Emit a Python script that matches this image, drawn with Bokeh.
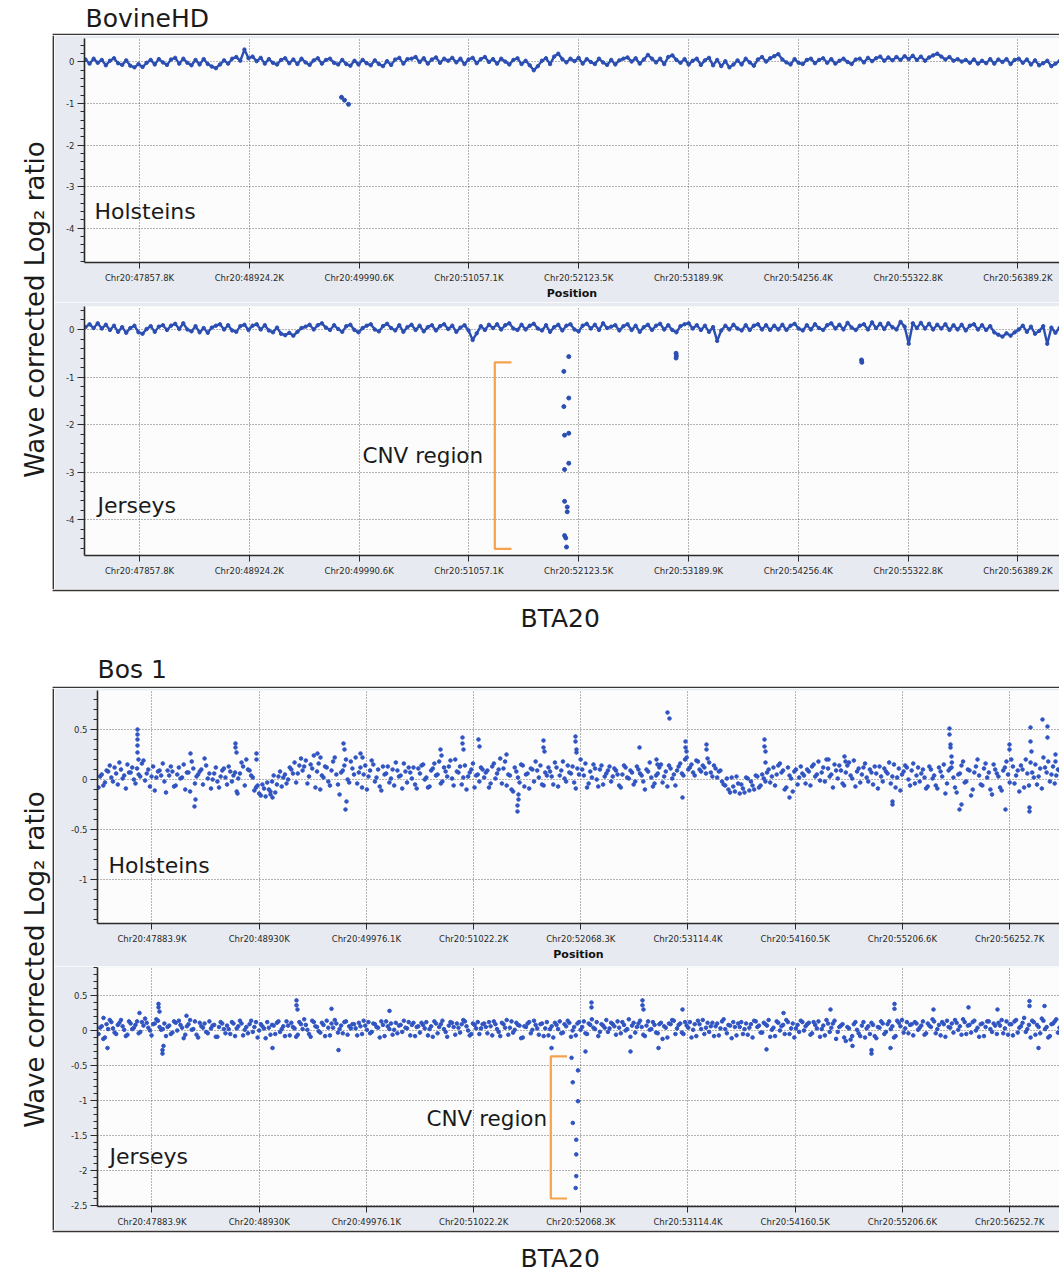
import numpy as np
from bokeh.plotting import figure
from bokeh.layouts import column, row
from bokeh.models import Range1d, FixedTicker, SingleIntervalTicker, PrintfTickFormatter, Label
from bokeh.embed import file_html
from bokeh.resources import INLINE

# ======================= DATA =======================
# x positions are genome positions on BTA20 in kb
bhd_ticks = [47857.8, 48924.2, 49990.6, 51057.1, 52123.5, 53189.9, 54256.4, 55322.8, 56389.2]
bhd_tick_labels = ["Chr20:47857.8K", "Chr20:48924.2K", "Chr20:49990.6K", "Chr20:51057.1K",
                   "Chr20:52123.5K", "Chr20:53189.9K", "Chr20:54256.4K", "Chr20:55322.8K",
                   "Chr20:56389.2K"]
bos_ticks = [47883.9, 48930.0, 49976.1, 51022.2, 52068.3, 53114.4, 54160.5, 55206.6, 56252.7]
bos_tick_labels = ["Chr20:47883.9K", "Chr20:48930K", "Chr20:49976.1K", "Chr20:51022.2K",
                   "Chr20:52068.3K", "Chr20:53114.4K", "Chr20:54160.5K", "Chr20:55206.6K",
                   "Chr20:56252.7K"]

# probe spans (kb) of the dense tracks; values read at even steps along them
bhd_span = (47333.3, 56793.0)
bos_span_a = (47361.9, 56739.7)
bos_span_b = (47377.6, 56755.4)

# BovineHD, Holsteins: wave corrected log2 ratio along the track
bhd_holstein = [
    0.06, -0.04, 0.08, -0.02, 0.05, -0.08, 0.03, 0.09, -0.03, -0.07,
    0.04, -0.09, -0.13, -0.05, -0.12, -0.02, 0.05, -0.06, 0.07, -0.01,
    -0.07, 0.06, 0.10, -0.04, 0.08, -0.02, -0.08, 0.05, -0.06, 0.07,
    -0.05, -0.11, -0.15, -0.06, 0.04, -0.04, 0.08, 0.12, 0.03, 0.30,
    0.09, 0.13, 0.02, 0.10, -0.04, 0.07, -0.02, -0.06, 0.05, 0.09,
    -0.03, 0.06, -0.05, 0.08, -0.01, -0.07, 0.04, 0.09, -0.04, 0.05,
    0.08, -0.02, -0.06, 0.05, -0.05, -0.09, 0.03, -0.06, 0.05, -0.03,
    -0.08, 0.04, -0.05, -0.10, 0.02, -0.07, 0.06, 0.10, -0.04, 0.07,
    0.08, 0.12, 0.00, 0.09, -0.04, 0.06, 0.11, -0.02, 0.08, 0.03,
    0.10, -0.01, 0.08, -0.05, 0.06, 0.10, -0.03, 0.07, 0.12, 0.00,
    0.07, -0.04, 0.08, 0.01, -0.06, 0.05, 0.09, -0.05, 0.03, -0.08,
    -0.20, -0.10, 0.03, 0.09, -0.05, 0.13, 0.20, 0.07, -0.01, 0.08,
    0.02, 0.10, -0.04, 0.07, 0.00, -0.05, 0.08, -0.01, -0.07, 0.05,
    -0.06, 0.04, 0.08, 0.11, 0.01, 0.09, -0.04, 0.06, 0.17, 0.08,
    -0.01, 0.08, -0.05, 0.12, 0.16, 0.05, -0.02, 0.07, -0.06, 0.03,
    0.08, -0.07, 0.04, 0.10, -0.08, 0.05, -0.10, 0.02, -0.13, -0.06,
    0.04, -0.06, 0.08, -0.01, -0.09, 0.06, 0.12, 0.01, 0.09, 0.14,
    0.19, 0.06, -0.01, -0.06, 0.07, -0.02, -0.05, 0.05, 0.08, -0.03,
    0.05, 0.09, -0.02, 0.07, -0.04, 0.03, 0.08, 0.00, -0.05, 0.06,
    0.08, -0.01, 0.10, 0.02, 0.09, 0.13, 0.03, 0.11, 0.04, 0.12,
    0.05, 0.14, 0.07, 0.15, 0.05, 0.13, 0.03, 0.11, 0.16, 0.20,
    0.13, 0.06, 0.12, 0.03, 0.07, 0.01, 0.05, -0.02, 0.06, -0.04,
    0.03, -0.03, 0.07, -0.04, 0.06, 0.00, 0.07, -0.05, 0.05, 0.08,
    -0.02, 0.06, -0.06, 0.04, -0.08, -0.03, 0.03, -0.10, -0.04, 0.02,
]
bhd_holstein_out = [(49819.6, -0.85), (49848.8, -0.92), (49887.6, -1.02)]

# BovineHD, Jerseys
bhd_jersey = [
    0.05, 0.11, 0.03, 0.13, 0.02, 0.10, -0.01, 0.08, -0.05, 0.05,
    -0.07, 0.03, 0.08, -0.06, -0.09, 0.01, 0.07, -0.05, 0.06, 0.09,
    -0.01, 0.08, 0.12, 0.01, 0.13, 0.00, -0.04, 0.07, -0.06, 0.03,
    -0.07, 0.04, 0.08, 0.11, 0.00, 0.09, -0.02, -0.05, 0.07, 0.10,
    -0.01, 0.08, 0.11, 0.00, 0.09, -0.02, -0.06, 0.04, -0.09, -0.12,
    -0.07, -0.13, -0.05, 0.03, 0.06, 0.10, 0.00, 0.09, 0.13, 0.04,
    -0.01, 0.09, 0.01, -0.05, 0.07, 0.10, -0.01, -0.06, 0.03, 0.08,
    0.11, 0.00, -0.04, 0.07, 0.12, 0.03, -0.02, 0.09, -0.05, 0.05,
    0.10, -0.01, 0.08, -0.04, 0.05, 0.09, -0.02, 0.07, 0.11, 0.01,
    0.08, -0.05, 0.04, 0.09, -0.02, -0.22, -0.08, 0.07, -0.01, 0.10,
    0.03, 0.11, 0.00, 0.09, 0.13, 0.02, -0.01, 0.10, 0.00, 0.08,
    0.12, 0.02, -0.02, 0.09, -0.05, 0.05, 0.10, -0.02, 0.08, 0.11,
    0.00, -0.04, 0.08, 0.12, 0.02, 0.10, -0.01, 0.13, 0.03, 0.06,
    0.09, -0.02, 0.07, 0.11, -0.01, 0.08, -0.05, 0.05, 0.10, -0.01,
    0.08, 0.12, 0.00, 0.09, -0.01, -0.06, 0.07, 0.11, 0.13, 0.02,
    0.09, -0.01, 0.08, -0.05, 0.05, -0.24, -0.02, 0.08, 0.00, 0.10,
    0.02, -0.02, 0.09, -0.01, 0.08, 0.11, 0.00, 0.09, -0.01, 0.08,
    0.00, 0.10, -0.01, 0.08, 0.12, 0.02, -0.02, 0.09, 0.00, 0.11,
    0.03, -0.01, 0.09, 0.13, 0.02, 0.10, 0.00, 0.14, 0.04, -0.01,
    0.08, 0.11, 0.00, 0.15, 0.03, 0.12, 0.01, 0.13, 0.05, 0.00,
    0.16, 0.06, -0.30, 0.13, 0.03, 0.14, 0.02, 0.12, 0.00, 0.10,
    0.02, 0.11, -0.01, 0.09, 0.00, 0.10, -0.02, 0.08, 0.11, 0.00,
    0.09, -0.01, 0.07, -0.06, -0.11, -0.15, -0.08, -0.13, -0.06, 0.00,
    0.08, -0.05, 0.06, -0.09, -0.03, 0.07, -0.30, 0.04, -0.07, 0.03,
]
bhd_jersey_out = [(53069.0, -0.50), (53072.0, -0.55), (53069.0, -0.60),
                  (54870.0, -0.64), (54873.0, -0.69)]
bhd_jersey_cnv = [(52027, -0.57), (51979, -0.88), (52027, -1.44), (51979, -1.62),
                  (52027, -2.18), (51986, -2.22), (52027, -2.81), (51986, -2.94),
                  (51986, -3.61), (52012, -3.73), (52012, -3.83), (51986, -4.33),
                  (51998, -4.38), (52005, -4.57)]
bhd_cnv_extent = (-0.69, -4.61)

# Bos 1, Holsteins (two interleaved probe sets)
bos_holstein_a = [
    -0.08, 0.05, -0.03, 0.08, 0.02, 0.12, -0.05, 0.10, 0.04, 0.15, 0.07, 0.00, 0.11, 0.03, 0.19, 0.06, -0.07, 0.13, 0.02, 0.09,
    0.16, -0.13, 0.04, 0.08, -0.06, 0.12, 0.02, -0.10, 0.07, 0.18, -0.04, 0.05, 0.10, 0.21, 0.01, -0.09, 0.06, -0.02, 0.03, 0.11,
    -0.05, 0.08, 0.04, -0.12, 0.06, 0.13, 0.20, 0.09, 0.02, -0.08, -0.14, -0.05, -0.17, -0.10, -0.02, -0.13, 0.03, -0.07, 0.05, 0.00,
    0.10, 0.17, 0.06, 0.21, 0.13, -0.04, 0.15, 0.24, 0.08, -0.10, 0.02, 0.12, -0.06, 0.18, 0.05, -0.15, 0.09, 0.20, -0.03, 0.11,
    0.22, 0.07, -0.08, 0.14, 0.03, 0.19, -0.02, 0.10, -0.11, 0.05, 0.13, 0.01, -0.06, 0.09, 0.04, 0.16, -0.03, 0.07, 0.12, -0.09,
    0.06, 0.15, 0.02, -0.07, 0.11, 0.04, 0.18, -0.02, 0.08, 0.13, 0.01, 0.20, 0.07, -0.05, 0.14, 0.03, 0.10, -0.08, 0.05, 0.12,
    0.02, 0.09, -0.04, 0.16, 0.06, 0.21, 0.11, -0.06, 0.04, -0.12, 0.08, -0.03, 0.14, 0.05, -0.09, 0.10, 0.18, 0.02, -0.05, 0.07,
    0.12, 0.03, 0.17, -0.07, 0.09, 0.01, 0.14, 0.06, -0.03, 0.11, 0.20, 0.04, -0.08, 0.08, 0.15, 0.00, 0.10, -0.05, 0.06, 0.13,
    0.03, 0.09, -0.06, 0.05, 0.12, 0.01, 0.07, -0.02, 0.10, 0.04, -0.10, 0.08, 0.02, -0.04, 0.06, 0.15, 0.03, -0.07, 0.11, 0.05,
    0.09, 0.16, 0.04, 0.22, 0.12, 0.07, 0.19, 0.10, 0.14, 0.06, 0.17, 0.03, 0.11, 0.08, -0.02, -0.06, -0.10, 0.02, -0.12, -0.04,
    -0.05, -0.13, 0.01, -0.02, -0.10, 0.03, -0.06, 0.01, 0.07, -0.03, 0.12, 0.05, 0.16, 0.09, -0.08, 0.04, -0.12, 0.10, 0.02, 0.06,
    -0.04, 0.08, 0.13, 0.03, 0.18, 0.07, -0.02, 0.11, 0.05, 0.15, 0.01, 0.09, -0.06, 0.14, 0.04, 0.19, 0.08, -0.03, 0.12, 0.02,
    0.10, -0.05, 0.06, 0.13, -0.02, 0.08, 0.17, 0.03, -0.08, 0.11, 0.05, 0.14, 0.00, 0.09, -0.04, 0.12, 0.06, 0.02, -0.07, 0.10,
    0.04, -0.09, 0.08, 0.15, -0.04, 0.11, 0.02, -0.13, 0.06, 0.18, -0.02, 0.09, -0.10, 0.13, 0.04, -0.06, 0.16, 0.07, -0.15, 0.10,
    0.03, -0.11, 0.12, 0.05, 0.20, -0.04, 0.09, 0.14, -0.08, 0.06, 0.17, 0.02, -0.05, 0.11, 0.22, 0.07, -0.02, 0.13, 0.04, 0.09,
]
bos_holstein_b = [
    0.03, -0.06, 0.09, 0.14, -0.02, 0.06, 0.17, 0.01, -0.09, 0.07, 0.12, -0.04, 0.05, 0.16, -0.01, 0.10, 0.03, -0.11, 0.08, 0.04,
    -0.02, 0.09, 0.13, -0.07, 0.05, 0.01, 0.15, 0.07, -0.12, 0.11, 0.03, 0.08, -0.05, 0.14, 0.06, 0.00, 0.12, -0.08, 0.09, 0.02,
    0.13, -0.02, 0.07, 0.01, 0.17, -0.06, 0.10, 0.04, -0.11, -0.06, -0.16, -0.09, -0.03, -0.12, 0.04, -0.05, 0.08, 0.02, -0.04, 0.12,
    0.06, -0.03, 0.14, 0.09, 0.19, 0.03, 0.11, -0.08, 0.16, 0.04, 0.13, -0.02, 0.09, 0.22, -0.05, 0.07, 0.14, 0.00, 0.18, 0.05,
    -0.04, 0.12, 0.05, -0.10, 0.09, 0.15, 0.02, -0.07, 0.13, 0.06, -0.03, 0.10, 0.17, 0.03, -0.09, 0.08, 0.12, 0.01, -0.05, 0.11,
    0.14, 0.00, -0.08, 0.09, 0.16, 0.05, -0.04, 0.12, 0.03, 0.19, -0.06, 0.08, 0.13, 0.02, -0.10, 0.07, 0.16, 0.04, -0.02, 0.10,
    0.07, -0.08, 0.13, 0.01, 0.10, -0.04, 0.18, 0.05, -0.10, 0.12, 0.02, 0.15, -0.07, 0.06, 0.11, -0.02, 0.09, 0.14, -0.06, 0.04,
    0.08, -0.05, 0.12, 0.04, 0.18, -0.02, 0.07, 0.13, -0.09, 0.05, 0.10, 0.16, -0.04, 0.02, 0.11, -0.07, 0.14, 0.03, 0.09, -0.02,
    0.11, 0.05, -0.08, 0.14, 0.02, 0.09, -0.05, 0.13, 0.06, -0.02, 0.10, 0.17, -0.07, 0.04, 0.12, -0.03, 0.08, 0.14, 0.01, -0.06,
    0.13, 0.06, 0.20, 0.10, 0.15, 0.04, 0.18, 0.08, 0.12, 0.21, 0.07, 0.14, 0.02, 0.09, -0.05, 0.01, -0.13, -0.07, 0.03, -0.14,
    -0.09, 0.02, -0.11, -0.06, 0.04, -0.08, 0.05, -0.02, 0.10, 0.03, -0.06, 0.14, 0.07, -0.10, 0.12, 0.01, 0.08, -0.05, 0.13, 0.04,
    0.10, -0.06, 0.15, 0.05, -0.01, 0.12, 0.20, 0.03, -0.08, 0.09, 0.14, -0.04, 0.07, 0.17, 0.01, -0.07, 0.11, 0.05, 0.16, -0.02,
    0.07, 0.13, -0.09, 0.03, 0.11, 0.06, -0.04, 0.15, 0.02, -0.11, 0.08, 0.12, -0.06, 0.16, 0.04, -0.02, 0.10, -0.09, 0.13, 0.01,
    -0.06, 0.12, 0.03, -0.14, 0.09, 0.17, -0.08, 0.05, 0.14, -0.03, 0.10, -0.16, 0.07, 0.20, -0.05, 0.11, 0.02, -0.10, 0.15, 0.06,
    -0.08, 0.09, 0.18, -0.03, 0.13, 0.04, -0.12, 0.10, 0.20, -0.06, 0.07, 0.15, 0.03, -0.09, 0.12, 0.18, 0.05, -0.04, 0.10, 0.14,
]
bos_holstein_spikes = [
    (47742.4, 0.50), (47742.4, 0.45), (47742.4, 0.40), (47742.4, 0.34), (47742.4, 0.27), (47752.2, 0.20),
    (48259.6, 0.26), (48298.7, -0.27), (48308.4, -0.20),
    (48698.8, 0.36), (48698.8, 0.32), (48708.5, 0.27), (48718.3, -0.14),
    (48903.7, 0.26), (48903.7, 0.20), (49059.8, -0.18), (49040.3, -0.15),
    (49498.9, 0.26), (49528.2, 0.22),
    (49752.7, 0.36), (49762.4, 0.30), (49772.2, -0.30), (49781.9, -0.22),
    (49918.6, 0.26), (49938.1, 0.22), (50699.2, 0.30), (50709.0, 0.24),
    (50913.9, 0.42), (50913.9, 0.36), (50923.7, 0.30), (51070.0, 0.40), (51079.8, 0.33),
    (51343.3, 0.25), (51450.6, -0.32), (51450.6, -0.26), (51460.4, -0.20), (51460.4, -0.15),
    (51704.3, 0.39), (51704.3, 0.32), (51714.1, 0.28),
    (52016.6, 0.43), (52016.6, 0.38), (52026.4, 0.30), (52026.4, 0.27),
    (52641.2, 0.32), (52807.0, 0.20), (52816.8, 0.15), (52914.4, 0.67), (52933.9, 0.61),
    (53090.0, 0.38), (53090.0, 0.32), (53099.8, 0.28), (53060.8, -0.18),
    (53295.0, 0.35), (53295.0, 0.30),
    (53861.0, 0.40), (53861.0, 0.33), (53870.7, 0.28), (53870.7, 0.17), (54104.9, -0.18),
    (54485.5, 0.20), (54641.6, 0.23), (54651.4, 0.18), (55110.0, -0.22), (55110.0, -0.25),
    (55666.3, 0.51), (55666.3, 0.45), (55676.1, 0.35), (55676.1, 0.32), (55685.8, 0.23), (55685.8, 0.12),
    (55763.8, -0.30), (55783.4, -0.25), (56212.7, -0.30), (56251.8, 0.35), (56251.8, 0.30),
    (56446.9, -0.28), (56446.9, -0.32), (56456.7, 0.52), (56456.7, 0.38), (56466.4, 0.28),
    (56573.8, 0.60), (56622.6, 0.53), (56622.6, 0.42), (56700.6, 0.25), (56700.6, 0.18),
]

# Bos 1, Jerseys (two interleaved probe sets)
bos_jersey_a = [
    -0.05, 0.06, -0.10, 0.02, 0.12, -0.03, 0.08, 0.15, 0.01, -0.06, 0.10, 0.04, 0.13, -0.02, 0.07, 0.11, 0.00, 0.09, 0.16, 0.05,
    0.02, -0.08, 0.07, -0.03, 0.11, 0.14, 0.04, -0.06, 0.09, 0.01, 0.13, -0.10, 0.06, 0.10, -0.04, 0.03, 0.08, -0.09, 0.12, 0.02,
    0.07, -0.05, 0.10, 0.03, 0.14, -0.07, 0.05, 0.09, -0.02, 0.12, 0.00, 0.06, -0.11, 0.04, 0.08, -0.05, 0.13, 0.02, -0.08, 0.07,
    0.11, 0.03, -0.06, 0.09, 0.16, 0.01, -0.09, 0.12, 0.05, -0.03, 0.08, 0.14, -0.07, 0.04, 0.10, 0.02, -0.04, 0.13, 0.06, 0.09,
    0.03, 0.11, -0.05, 0.07, 0.12, -0.02, 0.09, 0.04, 0.13, -0.08, 0.06, 0.10, 0.01, -0.04, 0.08, 0.14, 0.03, -0.07, 0.11, 0.05,
    -0.03, 0.08, 0.12, 0.02, -0.09, 0.10, 0.05, 0.14, -0.02, 0.07, 0.11, -0.06, 0.04, 0.09, 0.13, 0.00, -0.05, 0.08, 0.12, 0.03,
    0.10, -0.04, 0.06, 0.13, 0.02, -0.08, 0.09, 0.15, 0.04, -0.03, 0.11, 0.07, -0.10, 0.05, 0.12, 0.01, 0.08, -0.06, 0.10, 0.03,
    -0.07, 0.06, 0.11, 0.02, -0.04, 0.09, 0.14, -0.09, 0.05, 0.10, 0.01, 0.13, -0.05, 0.08, 0.04, 0.12, -0.02, 0.07, 0.15, 0.03,
    0.09, -0.06, 0.04, 0.12, 0.00, 0.16, 0.07, -0.03, 0.10, 0.05, -0.08, 0.13, 0.02, 0.08, -0.04, 0.11, 0.06, -0.10, 0.09, 0.14,
    0.03, 0.10, -0.05, 0.07, 0.12, 0.01, -0.08, 0.09, 0.15, 0.04, -0.02, 0.11, 0.06, -0.07, 0.13, 0.02, 0.08, -0.11, 0.05, 0.10,
    0.12, 0.02, -0.06, 0.09, 0.14, 0.05, -0.03, 0.11, 0.07, -0.09, 0.04, 0.13, 0.00, 0.08, 0.15, -0.05, 0.10, 0.03, -0.02, 0.12,
    0.06, 0.11, -0.04, 0.08, 0.13, 0.02, -0.07, 0.10, 0.04, 0.14, -0.02, 0.07, -0.10, 0.05, -0.13, 0.09, 0.01, -0.08, 0.12, 0.03,
    -0.05, 0.08, -0.11, 0.04, 0.10, -0.02, 0.13, 0.06, -0.08, 0.11, 0.15, 0.03, -0.04, 0.09, 0.12, 0.01, 0.07, -0.06, 0.10, 0.05,
    0.13, 0.02, -0.07, 0.09, 0.14, 0.04, -0.03, 0.11, 0.06, 0.16, -0.05, 0.08, 0.12, 0.00, -0.09, 0.10, 0.05, 0.13, -0.02, 0.07,
    0.11, 0.15, 0.03, -0.06, 0.09, 0.13, -0.03, 0.06, 0.18, 0.02, -0.10, 0.12, 0.08, -0.04, 0.14, 0.05, -0.08, 0.10, 0.16, 0.04,
]
bos_jersey_b = [
    0.04, -0.12, 0.09, 0.15, 0.03, -0.05, 0.11, 0.06, -0.08, 0.13, 0.02, 0.08, -0.04, 0.12, 0.17, 0.04, -0.07, 0.10, 0.14, 0.01,
    0.10, 0.05, -0.05, 0.13, 0.00, 0.08, -0.11, 0.06, 0.15, 0.02, -0.06, 0.11, 0.04, -0.02, 0.13, 0.07, -0.09, 0.05, 0.10, -0.04,
    0.02, 0.12, -0.08, 0.06, 0.10, 0.01, -0.04, 0.14, 0.05, -0.10, 0.09, 0.03, 0.12, -0.06, 0.07, 0.11, -0.02, 0.06, 0.13, -0.07,
    0.05, -0.09, 0.12, 0.02, 0.08, -0.05, 0.14, 0.06, -0.01, 0.11, -0.08, 0.04, 0.10, 0.15, -0.03, 0.07, 0.12, -0.06, 0.03, 0.09,
    -0.07, 0.06, 0.14, 0.01, -0.04, 0.10, 0.05, -0.10, 0.08, 0.13, 0.02, -0.06, 0.11, 0.07, -0.02, 0.04, 0.12, 0.08, -0.08, 0.06,
    0.11, 0.03, -0.07, 0.06, 0.13, -0.04, 0.09, 0.02, -0.09, 0.12, 0.05, 0.10, -0.03, 0.15, 0.06, -0.07, 0.10, 0.03, -0.05, 0.09,
    0.05, 0.12, -0.07, 0.09, -0.02, 0.11, 0.04, -0.06, 0.13, 0.01, 0.08, -0.11, 0.06, 0.10, -0.04, 0.14, 0.03, 0.09, -0.08, 0.12,
    0.02, -0.10, 0.08, 0.13, -0.03, 0.06, 0.11, 0.00, -0.07, 0.12, 0.05, -0.04, 0.10, 0.16, 0.02, -0.08, 0.09, 0.04, -0.02, 0.11,
    0.06, 0.13, -0.04, 0.08, 0.02, -0.09, 0.11, 0.05, 0.14, -0.06, 0.07, 0.01, 0.12, -0.03, 0.09, -0.12, 0.04, 0.10, 0.15, -0.05,
    0.08, -0.03, 0.12, 0.04, -0.10, 0.09, 0.14, 0.02, -0.05, 0.11, 0.06, -0.08, 0.10, 0.03, 0.16, -0.04, 0.07, 0.12, -0.07, 0.05,
    -0.05, 0.10, 0.04, -0.10, 0.13, 0.07, -0.03, 0.09, 0.15, 0.01, -0.08, 0.11, 0.06, -0.05, 0.12, 0.03, -0.10, 0.08, 0.14, 0.00,
    0.09, -0.06, 0.12, 0.03, -0.09, 0.07, 0.15, -0.02, 0.10, -0.12, 0.05, 0.09, -0.15, 0.03, -0.08, 0.12, -0.04, 0.07, -0.10, 0.06,
    0.11, -0.08, 0.05, 0.13, -0.05, 0.09, 0.02, -0.10, 0.14, 0.06, -0.03, 0.12, 0.08, -0.07, 0.10, 0.04, 0.13, -0.04, 0.07, 0.16,
    -0.04, 0.08, 0.12, -0.09, 0.05, 0.10, 0.15, 0.01, -0.06, 0.12, 0.07, -0.03, 0.14, 0.04, 0.09, -0.08, 0.13, 0.02, 0.10, -0.05,
    0.07, -0.04, 0.13, 0.09, -0.07, 0.15, 0.04, 0.11, -0.02, 0.08, 0.14, -0.06, 0.05, 0.17, 0.02, -0.10, 0.09, 0.13, -0.03, 0.07,
]
bos_jersey_spikes = [
    (47410.7, 0.18), (47449.7, -0.25), (47762.0, 0.25), (47947.4, 0.38), (47947.4, 0.33), (47957.1, 0.27),
    (47986.4, -0.33), (47986.4, -0.28), (47996.2, -0.22), (48220.6, 0.21), (49059.8, -0.25),
    (49294.0, 0.43), (49294.0, 0.36), (49303.8, 0.30), (49635.6, 0.31), (49703.9, -0.28), (50201.6, 0.28),
    (51782.4, -0.25), (52114.2, -0.30), (52172.7, 0.40), (52172.7, 0.33), (52553.3, -0.30),
    (52670.4, 0.43), (52670.4, 0.36), (52680.2, 0.30), (52826.6, -0.25), (53060.8, 0.30),
    (53880.5, -0.27), (54046.4, 0.25), (54505.0, 0.30), (54719.7, -0.22), (54905.1, -0.33), (54905.1, -0.28),
    (55090.5, -0.25), (55129.5, 0.38), (55129.5, 0.31), (55510.1, 0.30), (55851.7, 0.33), (56134.7, 0.30),
    (56446.9, 0.42), (56446.9, 0.35), (56534.8, -0.25), (56593.3, 0.35),
]
bos_jersey_cnv = [(51978, -0.39), (52041, -0.57), (51990, -0.74), (52041, -1.01), (51990, -1.32),
                  (52024, -1.56), (52024, -1.77), (52024, -2.08), (52018, -2.25)]
bos_cnv_extent = (-0.37, -2.40)

# ======================= STYLE / LAYOUT =======================
FONT = "DejaVu Sans"
BLUE = "#3054c2"
LINE_BLUE = "#2b4eb2"
FRAME_BG = "#e7eaf0"
PLOT_BG = "#fcfcfd"
BOX = "#3a3535"
ORANGE = "#f4a24c"
TXT = "#1a1a1a"

TOTAL_W = 1059
YLAB_W = 54
PANEL_W = TOTAL_W - YLAB_W

BHD_LEFT = 30                     # frame left inside panel
BHD_KPP = 1066.4 / 109.8          # kb per pixel
BHD_X0 = 47323.6
BHD_XR = (BHD_X0, BHD_X0 + (PANEL_W - BHD_LEFT) * BHD_KPP)
BOS_LEFT = 43
BOS_KPP = 1046.1 / 107.2
BOS_X0 = 47352.1
BOS_XR = (BOS_X0, BOS_X0 + (PANEL_W - BOS_LEFT) * BOS_KPP)


def xy(pairs):
    return [p[0] for p in pairs], [p[1] for p in pairs]


def track_fig(height, xr, yr, yint, ticks, labels, left, top, bottom, xlabel=None):
    p = figure(width=PANEL_W, height=height, x_range=Range1d(*xr), y_range=Range1d(*yr),
               output_backend="svg", toolbar_location=None,
               min_border_left=left, min_border_right=0, min_border_top=top,
               min_border_bottom=bottom)
    p.background_fill_color = PLOT_BG
    p.border_fill_color = FRAME_BG
    p.outline_line_color = None
    xa = p.xaxis[0]
    ya = p.yaxis[0]
    xa.ticker = FixedTicker(ticks=ticks)
    xa.major_label_overrides = {t: l for t, l in zip(ticks, labels)}
    xa.major_label_text_font = FONT
    xa.major_label_text_font_size = "8.5px"
    xa.major_label_text_color = "#2a2a2a"
    xa.major_tick_in = 0
    xa.major_tick_out = 6
    xa.major_label_standoff = 4
    xa.minor_tick_line_color = None
    xa.axis_line_color = "#2a2a2a"
    xa.axis_line_width = 1.6
    xa.major_tick_line_color = "#2a2a2a"
    if xlabel:
        xa.axis_label = xlabel
        xa.axis_label_text_font = FONT
        xa.axis_label_text_font_size = "11px"
        xa.axis_label_text_font_style = "bold"
        xa.axis_label_text_color = "#111111"
        xa.axis_label_standoff = 1
    ya.ticker = SingleIntervalTicker(interval=yint, num_minor_ticks=5)
    ya.formatter = PrintfTickFormatter(format="%g")
    ya.major_label_text_font = FONT
    ya.major_label_text_font_size = "8.5px"
    ya.major_label_text_color = "#2a2a2a"
    ya.major_tick_in = 0
    ya.major_tick_out = 7
    ya.minor_tick_in = 0
    ya.minor_tick_out = 4
    ya.major_label_standoff = 3
    ya.axis_line_color = "#2a2a2a"
    ya.axis_line_width = 1.6
    ya.major_tick_line_color = "#2a2a2a"
    ya.minor_tick_line_color = "#2a2a2a"
    p.grid.grid_line_color = "#3c3c3c"
    p.grid.grid_line_alpha = 0.75
    p.grid.grid_line_dash = "1 2"
    p.grid.grid_line_width = 1
    return p


def text_fig(w, h):
    p = figure(width=w, height=h, x_range=Range1d(0, w), y_range=Range1d(h, 0),
               output_backend="svg", toolbar_location=None,
               x_axis_location=None, y_axis_location=None, min_border=0)
    p.grid.visible = False
    p.outline_line_color = None
    p.background_fill_color = "white"
    p.border_fill_color = "white"
    return p


def add_label(p, x, y, text, size="22px", align="left"):
    p.add_layout(Label(x=x, y=y, text=text, text_font=FONT, text_font_size=size,
                       text_color=TXT, text_align=align, text_baseline="middle"))


def px_bhd(px):
    return BHD_X0 + (px - YLAB_W - BHD_LEFT) * BHD_KPP


def px_bos(px):
    return BOS_X0 + (px - YLAB_W - BOS_LEFT) * BOS_KPP


def bracket(p, x_left, x_right, extent):
    top, bot = extent
    p.line([x_right, x_left, x_left, x_right], [top, top, bot, bot],
           line_color=ORANGE, line_width=2.2)


# ---------- panel 1 : BovineHD ----------
h1 = track_fig(267, BHD_XR, (-4.831, 0.566), 1, bhd_ticks, bhd_tick_labels,
               BHD_LEFT, 3, 40, xlabel="Position")
xs = np.linspace(bhd_span[0], bhd_span[1], len(bhd_holstein))
h1.line(xs, bhd_holstein, line_color=LINE_BLUE, line_width=2.4)
h1.scatter(xs, bhd_holstein, size=3.4, color=LINE_BLUE)
ox, oy = xy(bhd_holstein_out)
h1.scatter(ox, oy, size=4, color=LINE_BLUE)
add_label(h1, px_bhd(94), -3.60, "Holsteins")

j1 = track_fig(287, BHD_XR, (-4.748, 0.483), 1, bhd_ticks, bhd_tick_labels,
               BHD_LEFT, 4, 34)
xs = np.linspace(bhd_span[0], bhd_span[1], len(bhd_jersey))
j1.line(xs, bhd_jersey, line_color=LINE_BLUE, line_width=2.4)
j1.scatter(xs, bhd_jersey, size=3.4, color=LINE_BLUE)
ox, oy = xy(bhd_jersey_out)
j1.scatter(ox, oy, size=4, color=LINE_BLUE)
cx, cy = xy(bhd_jersey_cnv)
j1.scatter(cx, cy, size=4, color=LINE_BLUE)
bracket(j1, px_bhd(494.3), px_bhd(511), bhd_cnv_extent)
add_label(j1, px_bhd(97), -3.70, "Jerseys")
add_label(j1, px_bhd(362), -2.647, "CNV region", size="21.5px")

# ---------- panel 2 : Bos 1 ----------
h2 = track_fig(278, BOS_XR, (-1.44, 0.89), 0.5, bos_ticks, bos_tick_labels,
               BOS_LEFT, 2, 43, xlabel="Position")
for span, vals in ((bos_span_a, bos_holstein_a), (bos_span_b, bos_holstein_b)):
    xs = np.linspace(span[0], span[1], len(vals))
    h2.scatter(xs, vals, size=3.6, color=BLUE)
sx, sy = xy(bos_holstein_spikes)
h2.scatter(sx, sy, size=3.6, color=BLUE)
add_label(h2, px_bos(108), -0.86, "Holsteins")

j2 = track_fig(264, BOS_XR, (-2.514, 0.9), 0.5, bos_ticks, bos_tick_labels,
               BOS_LEFT, 1, 24)
for span, vals in ((bos_span_a, bos_jersey_a), (bos_span_b, bos_jersey_b)):
    xs = np.linspace(span[0], span[1], len(vals))
    j2.scatter(xs, vals, size=3.6, color=BLUE)
sx, sy = xy(bos_jersey_spikes)
j2.scatter(sx, sy, size=3.6, color=BLUE)
cx, cy = xy(bos_jersey_cnv)
j2.scatter(cx, cy, size=3.6, color=BLUE)
bracket(j2, px_bos(550.3), px_bos(566.5), bos_cnv_extent)
add_label(j2, px_bos(109), -1.796, "Jerseys")
add_label(j2, px_bos(426), -1.257, "CNV region", size="21.5px")

# ---------- text strips and outer box ----------
def box_line_h(p, y):
    p.line([YLAB_W - 1.9, TOTAL_W], [y, y], line_color=BOX, line_width=1.8)


def vlabel(h, yc):
    p = text_fig(YLAB_W, h)
    p.add_layout(Label(x=34.4, y=yc, text="Wave corrected Log\u2082 ratio", text_font=FONT,
                       text_font_size="26px", text_color=TXT, angle=np.pi / 2,
                       text_align="center", text_baseline="alphabetic"))
    p.line([YLAB_W - 1, YLAB_W - 1], [0, h], line_color=BOX, line_width=1.8)
    return p


def big_text(p, x, y, text):
    p.add_layout(Label(x=x, y=y, text=text, text_font=FONT, text_font_size="25px",
                       text_color=TXT, text_baseline="middle"))


t1 = text_fig(TOTAL_W, 35)
big_text(t1, 85, 17.5, "BovineHD")
box_line_h(t1, 34.1)

yl1 = vlabel(554, 274)

b1 = text_fig(TOTAL_W, 56)
box_line_h(b1, 0.9)
big_text(b1, 520, 29, "BTA20")

t2 = text_fig(TOTAL_W, 43)
big_text(t2, 97, 23.5, "Bos 1")
box_line_h(t2, 42.1)

yl2 = vlabel(542, 271)

b2 = text_fig(TOTAL_W, 42)
box_line_h(b2, 0.9)
big_text(b2, 520, 27.5, "BTA20")

layout = column(
    t1,
    row(yl1, column(h1, j1, spacing=0), spacing=0),
    b1,
    t2,
    row(yl2, column(h2, j2, spacing=0), spacing=0),
    b2,
    spacing=0,
)

with open("out.html", "w") as f:
    f.write(file_html(layout, INLINE, title="BTA20 CNV"))
